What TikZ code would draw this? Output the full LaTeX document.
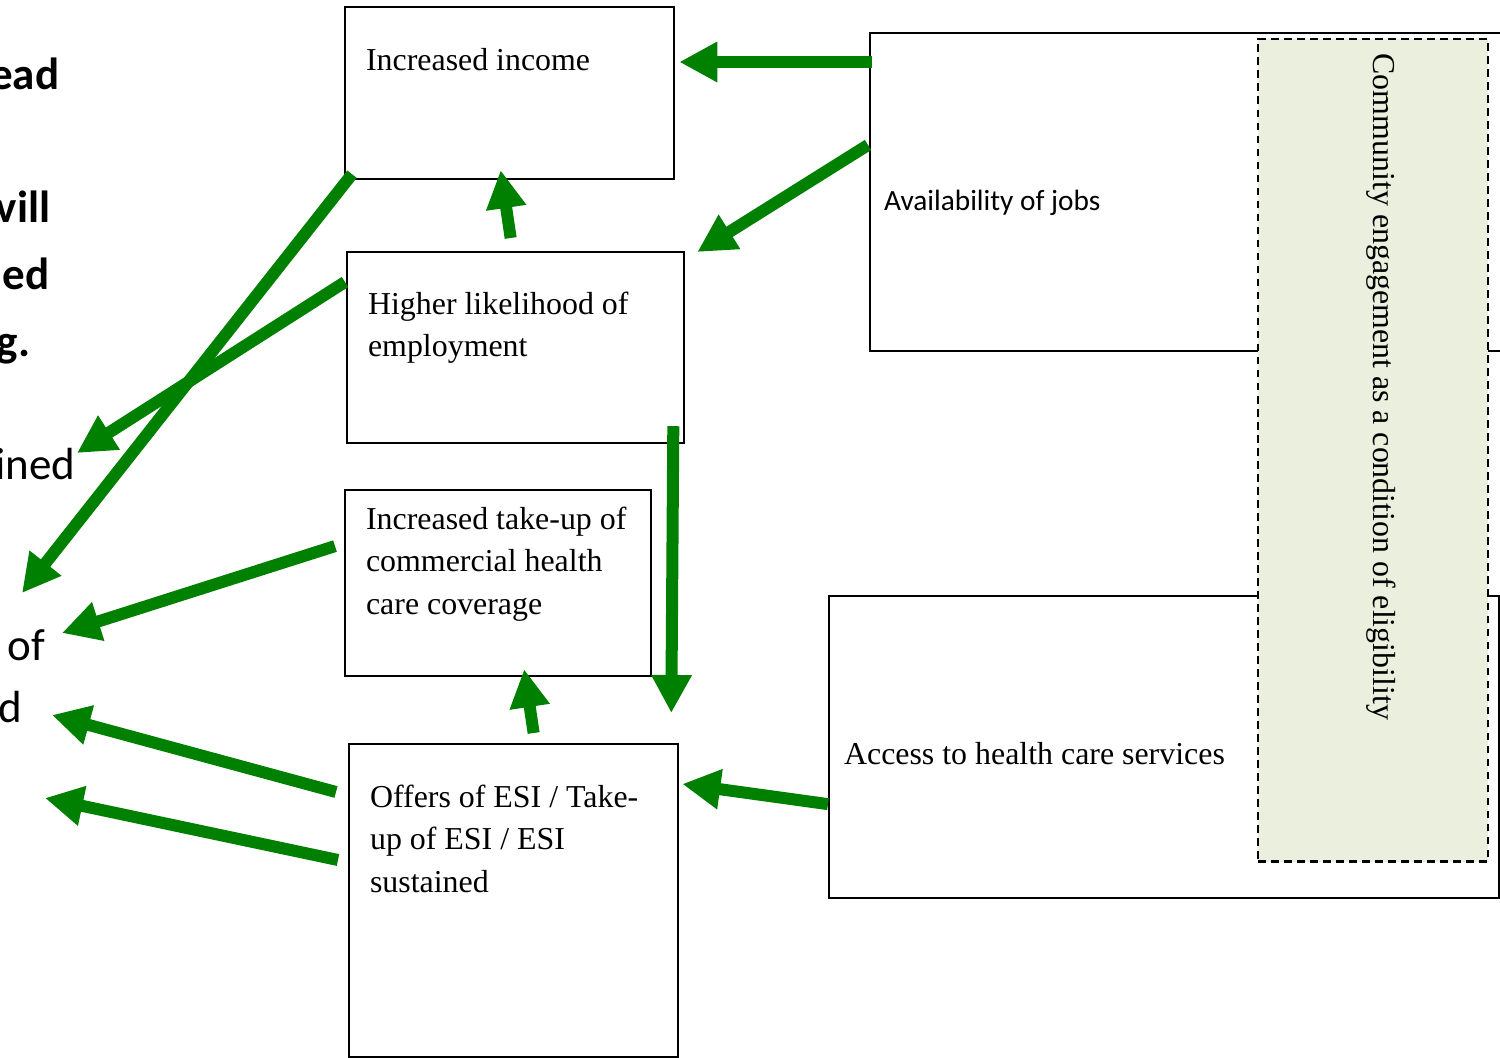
\documentclass[tikz,border=0pt]{standalone}
\usepackage{fontspec}
\setmainfont{Liberation Serif}
\newfontfamily\calibri{Carlito}
\usetikzlibrary{arrows.meta, calc}

\definecolor{arrowgreen}{RGB}{0,128,0}
\definecolor{commfill}{RGB}{235,239,222}

\begin{document}
\begin{tikzpicture}[
    x=0.01cm, y=-0.01cm,
    box/.style={rectangle, draw, line width=0.6pt, fill=white, anchor=north west, inner xsep=0.21cm, inner ysep=0pt, font=\fontsize{9.07pt}{12.15pt}\selectfont, execute at begin node={\spaceskip=0pt\xspaceskip=0pt}},
    cutbold/.style={anchor=base east, inner sep=0pt, font=\calibri\fontsize{12.8pt}{15pt}\bfseries},
    cutplain/.style={anchor=base east, inner sep=0pt, font=\calibri\fontsize{12.8pt}{15pt}\selectfont},
    arrow/.style={-{Triangle[length=0.38cm, width=0.38cm]}, line width=0.12cm, arrowgreen}
]
\useasboundingbox (0,0) rectangle (1500,1058);

% text cut off at the left margin
\node[cutbold] (leadA) at (60,90) {ead};
\node[cutbold] (leadB) at (51,223) {vill};
\node[cutbold] (leadC) at (50,290) {ed};
\node[cutbold] (leadD) at (31,357) {g.};
\node[cutplain] (leadE) at (76,480) {ined};
\node[cutplain] (leadF) at (46,660) {of};
\node[cutplain] (leadG) at (23,722) {d};

% outcome boxes
\node[box, text width=2.87cm, text height=0.63cm, text depth=1.09cm] (income) at (344,6) {Increased income};
\node[box, text width=2.95cm, text height=0.62cm, text depth=1.29cm] (employ) at (346,251) {Higher likelihood of\\employment};
\node[box, text width=2.64cm, text height=0.39cm, text depth=1.47cm] (coverage) at (344,489) {\mbox{Increased take-up of}\\commercial health\\care coverage};
\node[box, text width=2.87cm, text height=0.63cm, text depth=2.50cm] (esi) at (348,743) {\mbox{Offers of ESI / Take-}\\up of ESI / ESI\\sustained};

% right hand boxes
\node[box, inner xsep=0.14cm, text width=6.13cm, text height=1.77cm, text depth=1.41cm, font=\calibri\fontsize{8.34pt}{10pt}\selectfont] (jobs) at (869,32) {Availability of jobs};
\node[box, inner xsep=0.15cm, text width=6.40cm, text height=1.68cm, text depth=1.34cm] (access) at (828,595) {Access to health care services};

% eligibility condition
\node[rectangle, draw, dash pattern=on 2.2pt off 1.5pt, line width=0.6pt, fill=commfill, anchor=north west, minimum width=2.30cm, minimum height=8.22cm, inner sep=0pt] (eligibility) at (1257,38) {};
\node[rotate=-90, anchor=base west, inner sep=0pt, font=\fontsize{9.07pt}{12.15pt}\selectfont] (eligibilityText) at (1373,53) {Community engagement as a condition of eligibility};

% free ends at the left margin
\coordinate (toLow) at (22,593);
\coordinate (toIned) at (77,453);
\coordinate (toOf) at (62,633);
\coordinate (toD) at (52,715);
\coordinate (toBelow) at (45,798);

\draw[arrow] ($(jobs.north west)+(3,30)$) -- ($(income.north east)+(4,56)$);
\draw[arrow] ($(jobs.north west)+(-1,113)$) -- ($(employ.north east)+(12,1)$);
\draw[arrow] ($(employ.north)+(-5,-13)$) -- ($(income.south)+(-9,-10)$);
\draw[arrow] ($(income.south west)+(8,-6)$) -- (toLow);
\draw[arrow] ($(employ.north west)+(-1,31)$) -- (toIned);
\draw[arrow] ($(employ.south east)+(-12,-18)$) -- ($(esi.north east)+(-8,-30)$);
\draw[arrow] ($(coverage.west)+(-9,-37)$) -- (toOf);
\draw[arrow] ($(esi.north)+(20,-10)$) -- ($(coverage.south)+(26,-8)$);
\draw[arrow] ($(esi.north west)+(-12,49)$) -- (toD);
\draw[arrow] ($(esi.north west)+(-10,117)$) -- (toBelow);
\draw[arrow] ($(access.west)+(0,57)$) -- ($(esi.north east)+(3,41)$);

\end{tikzpicture}
\end{document}
